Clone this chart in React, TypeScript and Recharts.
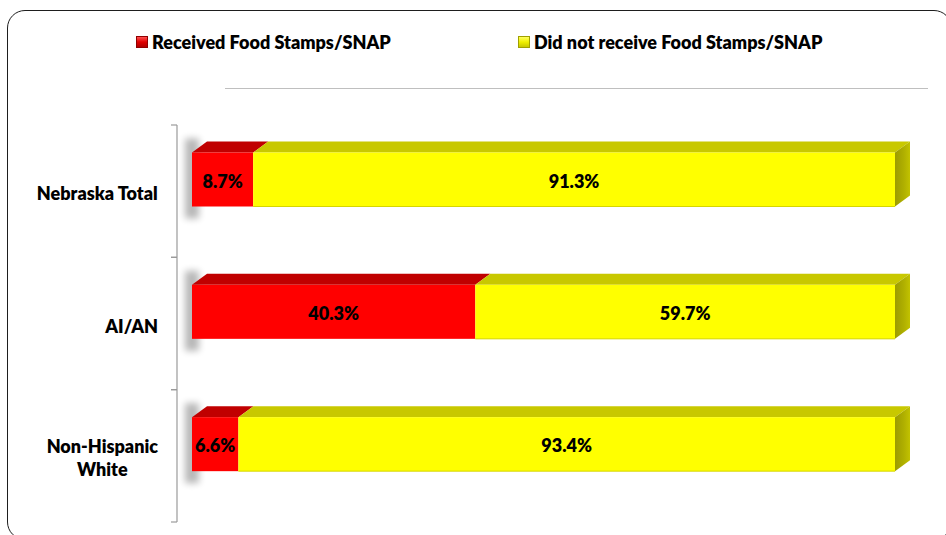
import React from 'react';
import { BarChart, Bar, XAxis, YAxis, Legend, LabelList } from 'recharts';

const categories = ['Nebraska Total', 'AI/AN', 'Non-Hispanic White'];
const receivedValues = [8.7, 40.3, 6.6];
const notReceivedValues = [91.3, 59.7, 93.4];
const seriesNames = ['Received Food Stamps/SNAP', 'Did not receive Food Stamps/SNAP'];
const xDomain = [0, 100];

const data = categories.map((c, i) => ({
  category: c,
  received: receivedValues[i],
  notReceived: notReceivedValues[i],
}));

const W = 946;
const H = 535;
const FONT = 'Lato, "Open Sans", sans-serif';
const FS = 18;
const FW = 800;
const DX = 15;
const DY = 11;
const LIFT = 11.5;
const AXIS_X = 177;
const TOP = 125;
const BOTTOM = 13;
const BAND = (H - TOP - BOTTOM) / categories.length;

let ctx: CanvasRenderingContext2D | null = null;
const measure = (t: string) => {
  if (!ctx) ctx = document.createElement('canvas').getContext('2d');
  if (!ctx) return t.length * 9;
  ctx.font = `${FW} ${FS}px Lato`;
  return ctx.measureText(t).width;
};

const wrap = (text: string, maxW: number) => {
  const words = text.split(' ');
  const lines: string[] = [];
  let cur = '';
  words.forEach((w) => {
    const cand = cur ? cur + ' ' + w : w;
    if (measure(cand) > maxW && cur) {
      lines.push(cur);
      cur = w;
    } else cur = cand;
  });
  if (cur) lines.push(cur);
  return lines;
};

const CategoryTick = (props: any) => {
  const { y, payload } = props;
  const lines = wrap(String(payload.value), 140);
  const widths = lines.map(measure);
  const maxW = Math.max(...widths);
  const cx = 158 - maxW / 2;
  const lh = 23;
  const startY = y + 2 - ((lines.length - 1) * lh) / 2;
  return (
    <g>
      <line x1={AXIS_X - 6} x2={AXIS_X} y1={y - BAND / 2} y2={y - BAND / 2} stroke="#9A9A9A" strokeWidth={1.2} />
      <line x1={AXIS_X - 6} x2={AXIS_X} y1={y + BAND / 2} y2={y + BAND / 2} stroke="#9A9A9A" strokeWidth={1.2} />
      {lines.map((l, i) => (
        <text
          key={i}
          x={cx}
          y={startY + i * lh}
          textAnchor="middle"
          dominantBaseline="central"
          fontFamily={FONT}
          fontWeight={FW}
          fontSize={FS}
          fill="#000"
        >
          {l}
        </text>
      ))}
    </g>
  );
};

const RedShape = (props: any) => {
  const { x, y, width, height } = props;
  const fy = y - LIFT;
  return (
    <g>
      <defs>
        <filter id="shBlur" x="-200%" y="-50%" width="500%" height="200%">
          <feGaussianBlur stdDeviation="3.5" />
        </filter>
      </defs>
      <rect x={x - 7} y={fy - 14} width={14} height={height + 26} fill="#000" opacity={0.28} filter="url(#shBlur)" />
      <polygon
        points={`${x},${fy} ${x + width},${fy} ${x + width + DX},${fy - DY} ${x + DX},${fy - DY}`}
        fill="#C00000"
      />
      <rect x={x} y={fy} width={width} height={height} fill="#FF0000" />
    </g>
  );
};

const YellowShape = (props: any) => {
  const { x, y, width, height } = props;
  const fy = y - LIFT;
  const r = x + width;
  return (
    <g>
      <defs>
        <linearGradient id="sideGrad" x1="0" y1="0" x2="1" y2="0">
          <stop offset="0%" stopColor="#9C9C00" />
          <stop offset="60%" stopColor="#B0B000" />
          <stop offset="100%" stopColor="#C2C200" />
        </linearGradient>
      </defs>
      <polygon
        points={`${x},${fy} ${r},${fy} ${r + DX},${fy - DY} ${x + DX},${fy - DY}`}
        fill="#C8C800"
      />
      <polygon
        points={`${r},${fy} ${r + DX},${fy - DY} ${r + DX},${fy + height - DY} ${r},${fy + height}`}
        fill="url(#sideGrad)"
      />
      <rect x={x} y={fy} width={width} height={height} fill="#FFFF00" />
      <line x1={x} x2={r} y1={fy + height} y2={fy + height} stroke="#D6D600" strokeWidth={1} />
    </g>
  );
};

const renderValueLabel = (props: any) => {
  const { x, y, width, height, value } = props;
  return (
    <text
      x={Number(x) + Number(width) / 2}
      y={Number(y) - LIFT + Number(height) / 2 + 1}
      textAnchor="middle"
      dominantBaseline="central"
      fontFamily={FONT}
      fontWeight={FW}
      fontSize={FS}
      fill="#000"
    >
      {`${Number(value).toFixed(1)}%`}
    </text>
  );
};

const squareX = [136, 518];
const squareStyle = [
  { background: 'linear-gradient(#FF5050, #E00000 50%, #B00000)', border: '1px solid #900000' },
  { background: 'linear-gradient(#FFFF60, #F0F000 50%, #C8C800)', border: '1px solid #A0A000' },
];

const renderLegend = (props: any) => {
  const payload = props.payload || [];
  const ordered = seriesNames.map((n) => payload.find((p: any) => p.value === n)).filter(Boolean);
  return (
    <div style={{ position: 'relative', width: W, height: 100, fontFamily: FONT }}>
      {ordered.map((p: any, i: number) => (
        <React.Fragment key={i}>
          <div
            style={{
              position: 'absolute',
              left: squareX[i],
              top: 36,
              width: 10,
              height: 10,
              boxSizing: 'content-box',
              ...squareStyle[i],
            }}
          />
          <div
            style={{
              position: 'absolute',
              left: squareX[i] + 16,
              top: 31,
              lineHeight: '22px',
              fontSize: FS,
              fontWeight: FW,
              color: '#000',
              whiteSpace: 'nowrap',
            }}
          >
            {p.value}
          </div>
        </React.Fragment>
      ))}
      <div style={{ position: 'absolute', left: 225, top: 88, width: 703, height: 1, background: '#BFBFBF' }} />
    </div>
  );
};

export default function App() {
  return (
    <div style={{ position: 'absolute', left: 0, top: 0, width: W, height: H, overflow: 'hidden', background: '#fff' }}>
      <div
        style={{
          position: 'absolute',
          left: 7,
          top: 10,
          width: 945,
          height: 530,
          border: '1.5px solid #1E1E1E',
          borderRadius: 18,
          boxSizing: 'border-box',
        }}
      />
      <BarChart
        width={W}
        height={H}
        data={data}
        layout="vertical"
        margin={{ top: TOP, right: 51, bottom: BOTTOM, left: 0 }}
        barSize={54}
      >
        <XAxis type="number" domain={xDomain} hide padding={{ left: 15, right: 0 }} />
        <YAxis
          type="category"
          dataKey="category"
          width={AXIS_X}
          axisLine={{ stroke: '#9A9A9A', strokeWidth: 1.2 }}
          tickLine={false}
          tick={<CategoryTick />}
          interval={0}
        />
        <Legend
          layout="horizontal"
          verticalAlign="middle"
          align="center"
          wrapperStyle={{ top: 0, left: 0, width: W, height: 100 }}
          content={renderLegend}
        />
        <Bar dataKey="received" name={seriesNames[0]} stackId="a" fill="#FF0000" shape={<RedShape />} isAnimationActive={false}>
          <LabelList dataKey="received" content={renderValueLabel} />
        </Bar>
        <Bar dataKey="notReceived" name={seriesNames[1]} stackId="a" fill="#FFFF00" shape={<YellowShape />} isAnimationActive={false}>
          <LabelList dataKey="notReceived" content={renderValueLabel} />
        </Bar>
      </BarChart>
    </div>
  );
}
